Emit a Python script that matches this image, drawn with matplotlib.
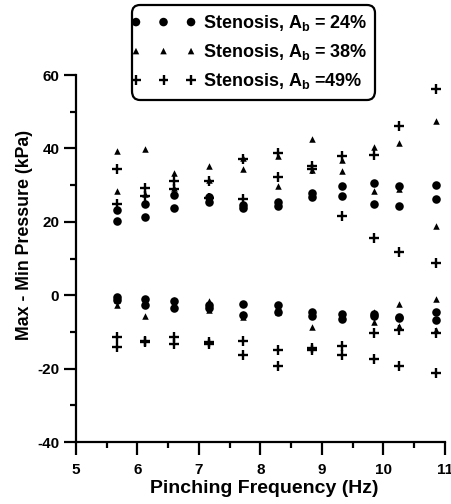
import matplotlib
matplotlib.use("Agg")
import matplotlib.pyplot as plt
from matplotlib.ticker import MultipleLocator
from matplotlib.collections import PathCollection
from matplotlib.legend_handler import HandlerPathCollection

plt.rcParams['font.family'] = ['Liberation Sans', 'DejaVu Sans']
plt.rcParams['font.weight'] = 'bold'
plt.rcParams['mathtext.fontset'] = 'custom'
plt.rcParams['mathtext.rm'] = 'Liberation Sans'
plt.rcParams['mathtext.default'] = 'rm'
plt.rcParams['axes.unicode_minus'] = False

# pinching frequencies (Hz)
freq = [5.66, 6.12, 6.60, 7.16, 7.71, 8.28, 8.84, 9.32, 9.85, 10.26, 10.86]

# stenosis Ab = 24% (circles)
s24_up1 = [23.2, 24.9, 27.3, 26.8, 24.5, 25.4, 27.9, 29.9, 30.6, 29.8, 30.1]
s24_up2 = [20.1, 21.3, 23.9, 25.4, 23.9, 24.3, 26.8, 27.0, 24.8, 24.3, 26.2]
s24_lo1 = [-0.5, -1.1, -1.6, -2.7, -2.5, -2.7, -4.5, -5.0, -5.6, -6.2, -4.7]
s24_lo2 = [-1.4, -2.7, -3.5, -3.6, -5.4, -4.7, -5.6, -6.5, -5.2, -5.8, -6.8]

# stenosis Ab = 38% (triangles)
s38_up1 = [39.3, 39.8, 33.2, 35.1, 37.5, 37.9, 42.5, 36.8, 40.4, 41.6, 47.4]
s38_up2 = [28.4, 27.5, 29.3, 31.5, 34.3, 29.7, 34.1, 33.8, 28.4, 29.0, 19.0]
s38_lo1 = [-2.7, -5.6, -1.2, -1.6, -5.9, -3.0, -8.6, -5.5, -4.7, -2.5, -0.9]
s38_lo2 = [-1.2, -1.8, -3.2, -3.9, -5.0, -4.5, -5.0, -6.0, -7.3, -8.4, -9.5]

# stenosis Ab = 49% (crosses)
s49_up1 = [34.3, 29.2, 31.1, 31.2, 37.0, 38.9, 35.1, 38.0, 38.3, 46.1, 56.1]
s49_up2 = [25.0, 27.0, 29.0, 26.5, 26.2, 32.2, 34.5, 21.7, 15.7, 11.8, 8.9]
s49_lo1 = [-11.4, -12.4, -11.5, -12.7, -12.4, -14.8, -14.8, -13.8, -10.4, -9.4, -10.3]
s49_lo2 = [-14.1, -12.8, -13.4, -13.4, -16.3, -19.3, -14.5, -16.3, -17.3, -19.3, -21.3]

labels = [r'Stenosis, A$_{b}$ = 24%', r'Stenosis, A$_{b}$ = 38%', r'Stenosis, A$_{b}$ =49%']

fig = plt.figure(figsize=(4.51, 5.04), dpi=100)
ax = fig.add_axes([0.1685, 0.123, 0.818, 0.728])

series = [
    (s24_up1 + s24_up2 + s24_lo1 + s24_lo2, 'o', 38, 0),
    (s38_up1 + s38_up2 + s38_lo1 + s38_lo2, '^', 22, 0),
    (s49_up1 + s49_up2 + s49_lo1 + s49_lo2, '+', 50, 1.7),
]
handles = []
for (vals, m, s, lw), lab in zip(series, labels):
    h = ax.scatter(freq * 4, vals, marker=m, s=s, color='black',
                   linewidths=lw, label=lab, zorder=3)
    handles.append(h)

ax.set_xlim(5, 11)
ax.set_ylim(-40, 60)
ax.xaxis.set_major_locator(MultipleLocator(1))
ax.xaxis.set_minor_locator(MultipleLocator(0.5))
ax.yaxis.set_major_locator(MultipleLocator(20))
ax.yaxis.set_minor_locator(MultipleLocator(10))
ax.spines['top'].set_visible(False)
ax.spines['right'].set_visible(False)
for sp in ['left', 'bottom']:
    ax.spines[sp].set_linewidth(1.6)
ax.tick_params(which='major', length=9, width=1.6, labelsize=11)
ax.tick_params(axis='x', which='major', pad=6)
ax.tick_params(axis='y', which='major', pad=3)
ax.tick_params(which='minor', length=4.5, width=1.6)

ax.set_xlabel('Pinching Frequency (Hz)', fontsize=14, fontweight='bold')
ax.set_ylabel('Max - Min Pressure (kPa)', fontsize=12.8, fontweight='bold')
ax.xaxis.set_label_coords(0.51, -0.104)
ax.yaxis.set_label_coords(-0.117, 0.564)

leg = fig.legend(handles=handles, loc='center', bbox_to_anchor=(0.563, 0.896),
                 handler_map={PathCollection: HandlerPathCollection(marker_pad=-0.25)},
                 scatterpoints=3, scatteryoffsets=[0.5], fontsize=13,
                 handlelength=2.55, handletextpad=0.9, labelspacing=0.5,
                 borderpad=0.45, borderaxespad=0, fancybox=True,
                 framealpha=1, edgecolor='black')
leg.get_frame().set_linewidth(1.6)
leg.get_frame().set_boxstyle('round', pad=0, rounding_size=0.45)

fig.savefig('out.png', dpi=100)
